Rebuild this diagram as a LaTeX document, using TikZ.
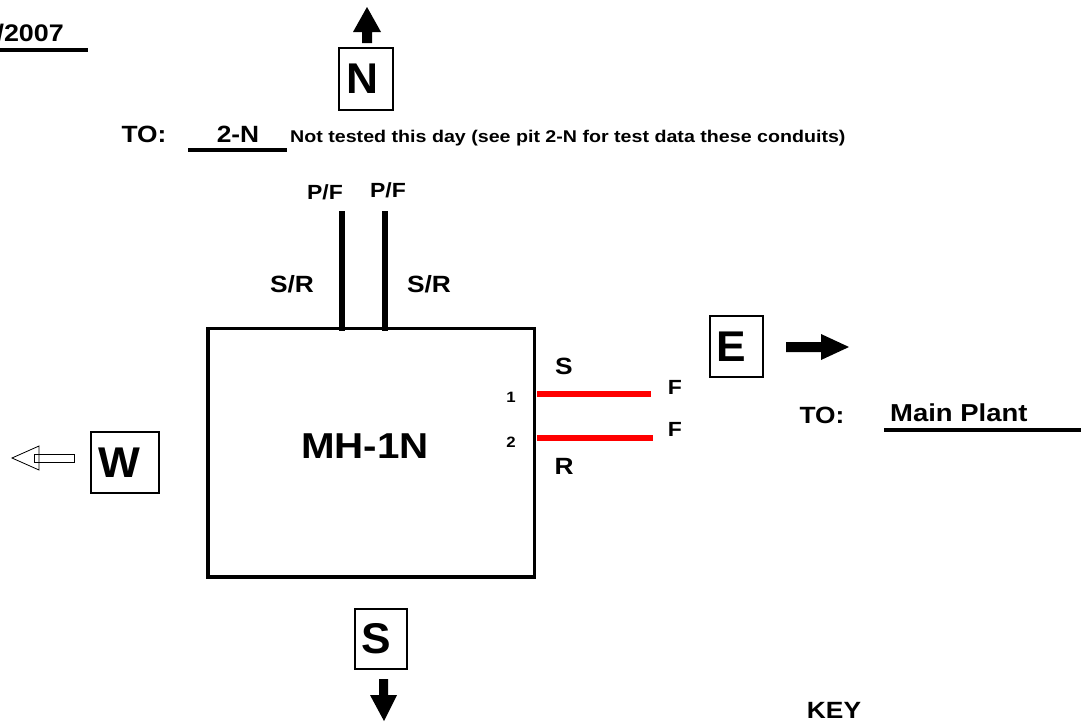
\documentclass[tikz,border=0pt]{standalone}
\usepackage{fontspec}
\setmainfont{Liberation Sans}
\definecolor{ConduitClr}{rgb}{1,0,0}
\newcommand{\fnt}[2]{\fontsize{#1}{#1}\selectfont\bfseries\addfontfeature{FakeStretch=#2}}
\tikzset{
  dirbox/.style={draw,line width=2.2pt,minimum width=#1,inner sep=0pt,font=\fnt{43}{1.03}},
  lbl/.style={inner sep=0pt,font=\fnt{#1}{1.12}},
  conduit/.style={line width=6pt,color=black},
  redline/.style={line width=6pt,color=ConduitClr},
  rule/.style={line width=3.5pt},
  solidarrow/.style={fill=black,draw=none},
  hollowarrow/.style={draw,line width=0.8pt}
}

\begin{document}
\begin{tikzpicture}[x=1pt,y=-1pt]
\useasboundingbox (0,0) rectangle (1081,721);

% pit
\node[draw,line width=3.5pt,minimum width=326.5pt,minimum height=248.5pt,inner sep=0pt] (MH) at (371.25,452.75) {};
\node[lbl=36] (MHname) at (365,446) {MH-1N};

% direction boxes
\node[dirbox=54pt,minimum height=62pt] (N) at (366,79) {N\kern8pt};
\node[dirbox=52pt,minimum height=60pt] (S) at (381,639) {S\kern10pt};
\node[dirbox=53pt,minimum height=61pt] (E) at (736.5,346.5) {E\kern10pt};
\node[dirbox=68pt,minimum height=61pt] (W) at (125,462.5) {W\kern12pt};

% arrows
\fill[solidarrow] (362,43) -- (362,32) -- (353,32) -- (367,7) -- (381,32) -- (372,32) -- (372,43) -- cycle;
\fill[solidarrow] (379,679) -- (379,695) -- (370,695) -- (384,721) -- (397,695) -- (388,695) -- (388,679) -- cycle;
\fill[solidarrow] (786,342) -- (821,342) -- (821,334) -- (849,347) -- (821,360) -- (821,352) -- (786,352) -- cycle;
\draw[hollowarrow] (39,446) -- (12,458) -- (39,470) -- cycle;
\draw[hollowarrow] (34,454) rectangle (74,462);

% conduits
\coordinate (PFa) at (342,211);
\coordinate (PFb) at (385,211);
\coordinate (Fa) at (651,394);
\coordinate (Fb) at (653,438);
\draw[conduit,shorten >=-4pt] (PFa) -- (PFa |- MH.north);
\draw[conduit,shorten >=-4pt] (PFb) -- (PFb |- MH.north);
\draw[redline,shorten <=1pt] (MH.east |- Fa) -- (Fa);
\draw[redline,shorten <=1pt] (MH.east |- Fb) -- (Fb);

% rules
\coordinate (DateL) at (0,50);
\coordinate (DateR) at (88,50);
\coordinate (NorthL) at (188,150);
\coordinate (NorthR) at (287,150);
\coordinate (EastL) at (884,430);
\coordinate (EastR) at (1081,430);
\draw[rule] (DateL) -- (DateR);
\draw[rule] (NorthL) -- (NorthR);
\draw[rule] (EastL) -- (EastR);

% labels
\node[lbl=24,anchor=east] (Date) at (64,33) {/2007};
\node[lbl=23.5] (TOn) at (144,134) {TO:};
\node[lbl=23.5] (TOnName) at (238,134) {2-N};
\node[inner sep=0pt,font=\fnt{17}{1.155},anchor=west] (Note) at (290,138) {Not tested this day (see pit 2-N for test data these conduits)};
\node[lbl=20.5] (PFl) at (325,192) {P/F};
\node[lbl=20.5] (PFr) at (388,190) {P/F};
\node[lbl=23.5] (SRl) at (292,284) {S/R};
\node[lbl=23.5] (SRr) at (429,284) {S/R};
\node[lbl=23.5] (Sl) at (564,366) {S};
\node[lbl=23.5] (Rl) at (564,466) {R};
\node[lbl=20.5] (Fl) at (675,387) {F};
\node[lbl=20.5] (Fm) at (675,429) {F};
\node[lbl=15] (one) at (511,397) {1};
\node[lbl=15] (two) at (511,442) {2};
\node[lbl=23.5] (TOe) at (822,415) {TO:};
\node[lbl=24.5,anchor=west] (TOeName) at (890,413) {Main Plant};
\node[lbl=23.5] (Key) at (834,710) {KEY};

\end{tikzpicture}
\end{document}
